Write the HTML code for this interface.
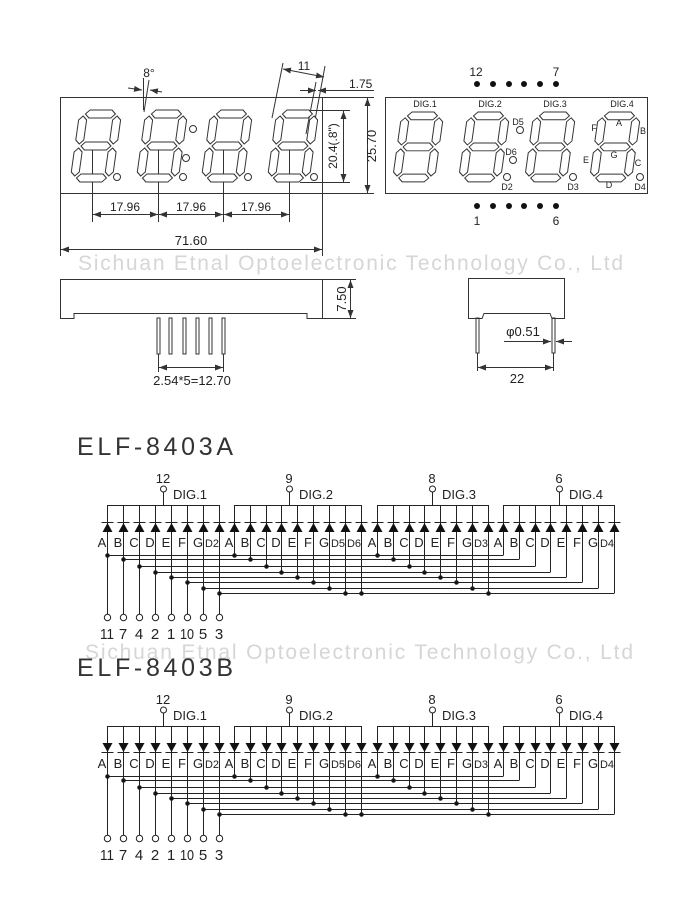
<!DOCTYPE html>
<html><head><meta charset="utf-8"><style>
html,body{margin:0;padding:0;background:#fff;}
svg{display:block;}
text{font-family:"Liberation Sans",sans-serif;fill:#222;}
</style></head><body>
<svg id="s" width="700" height="900" viewBox="0 0 700 900" xmlns="http://www.w3.org/2000/svg">
<defs>
<g id="dg" fill="#fff" stroke="#333" stroke-width="1">
<polygon points="6,4 10,0 32,0 36,4 32,8 10,8"/>
<polygon points="6,36 10,32 32,32 36,36 32,40 10,40"/>
<polygon points="6,68 10,64 32,64 36,68 32,72 10,72"/>
<polygon points="4,6 8,10 8,30 4,34 0,30 0,10"/>
<polygon points="38,6 42,10 42,30 38,34 34,30 34,10"/>
<polygon points="4,38 8,42 8,62 4,66 0,62 0,42"/>
<polygon points="38,38 42,42 42,62 38,66 34,62 34,42"/>
</g>
<marker id="ar" markerWidth="8" markerHeight="6" refX="8" refY="3" orient="auto" markerUnits="userSpaceOnUse"><path d="M0,0 L8,3 L0,6z" fill="#333"/></marker>
<marker id="al" markerWidth="8" markerHeight="6" refX="0" refY="3" orient="auto" markerUnits="userSpaceOnUse"><path d="M8,0 L0,3 L8,6z" fill="#333"/></marker>
</defs>

<text x="78" y="270" font-size="21" style="fill:#d6d6d6" textLength="545">Sichuan Etnal Optoelectronic Technology Co., Ltd</text>
<text x="85" y="659" font-size="21" style="fill:#d6d6d6" textLength="548">Sichuan Etnal Optoelectronic Technology Co., Ltd</text>

<g stroke="#333" stroke-width="1" fill="none">
<rect x="60.5" y="97.5" width="262" height="96"/>
<line x1="60.5" y1="193" x2="60.5" y2="256"/><line x1="322.5" y1="193" x2="322.5" y2="256"/>
<line x1="61" y1="249.5" x2="322" y2="249.5" marker-start="url(#al)" marker-end="url(#ar)"/>
<line x1="92.5" y1="145" x2="92.5" y2="222"/><line x1="158.5" y1="145" x2="158.5" y2="222"/>
<line x1="223.5" y1="145" x2="223.5" y2="222"/><line x1="289.5" y1="145" x2="289.5" y2="222"/>
<line x1="93" y1="214.5" x2="158" y2="214.5" marker-start="url(#al)" marker-end="url(#ar)"/>
<line x1="159" y1="214.5" x2="223" y2="214.5" marker-start="url(#al)" marker-end="url(#ar)"/>
<line x1="224" y1="214.5" x2="289" y2="214.5" marker-start="url(#al)" marker-end="url(#ar)"/>
<line x1="300" y1="110.5" x2="350" y2="110.5"/><line x1="300" y1="182.5" x2="350" y2="182.5"/>
<line x1="343.5" y1="111" x2="343.5" y2="182" marker-start="url(#al)" marker-end="url(#ar)"/>
<line x1="322" y1="97.5" x2="374" y2="97.5"/><line x1="322" y1="193.5" x2="374" y2="193.5"/>
<line x1="367.5" y1="98" x2="367.5" y2="193" marker-start="url(#al)" marker-end="url(#ar)"/>
<line x1="283" y1="63" x2="272" y2="118"/><line x1="325" y1="66" x2="315" y2="120"/>
<line x1="316" y1="82" x2="306" y2="134"/>
<line x1="283" y1="69" x2="324" y2="77" marker-start="url(#al)" marker-end="url(#ar)"/>
<line x1="300" y1="90.5" x2="316" y2="90.5" marker-end="url(#ar)"/>
<line x1="374" y1="90.5" x2="318" y2="90.5" marker-end="url(#ar)"/>
<line x1="143.5" y1="78" x2="143.5" y2="110"/><line x1="149" y1="80" x2="144" y2="112"/>
<line x1="128" y1="88" x2="142" y2="90" marker-end="url(#ar)"/>
<line x1="162" y1="92" x2="150" y2="90" marker-end="url(#ar)"/>
<circle cx="117" cy="177" r="3.5"/><circle cx="183" cy="177" r="3.5"/><circle cx="248" cy="177" r="3.5"/><circle cx="314" cy="177" r="3.5"/>
<circle cx="193" cy="129" r="3.5"/><circle cx="186" cy="158" r="3.5"/>
<rect x="385.5" y="97.5" width="262" height="96"/>
<circle cx="520" cy="130" r="3.5"/><circle cx="513" cy="160" r="3.5"/><circle cx="507" cy="177" r="3.5"/>
<circle cx="573" cy="177" r="3.5"/><circle cx="640" cy="177" r="3.5"/>
<path d="M60.5,279.5 H322.5 V318.5 H307 V313.5 H74 V318.5 H60.5 Z"/>
<line x1="322" y1="279.5" x2="356" y2="279.5"/><line x1="322" y1="318.5" x2="356" y2="318.5"/>
<line x1="350.5" y1="280" x2="350.5" y2="318" marker-start="url(#al)" marker-end="url(#ar)"/>
<rect x="157" y="318" width="3" height="36"/><rect x="169" y="318" width="3" height="36"/>
<rect x="183" y="318" width="3" height="36"/><rect x="196" y="318" width="3" height="36"/>
<rect x="209" y="318" width="3" height="36"/><rect x="222" y="318" width="3" height="36"/>
<line x1="158.5" y1="354" x2="158.5" y2="372"/><line x1="223.5" y1="354" x2="223.5" y2="372"/>
<line x1="159" y1="367.5" x2="223" y2="367.5" marker-start="url(#al)" marker-end="url(#ar)"/>
<path d="M468.5,278.5 H564.5 V318.5 H552 L550,313.5 H484 L482,318.5 H468.5 Z"/>
<rect x="476" y="318" width="3" height="35"/><rect x="552" y="318" width="3" height="35"/>
<line x1="477.5" y1="353" x2="477.5" y2="371"/><line x1="553.5" y1="353" x2="553.5" y2="371"/>
<line x1="478" y1="367.5" x2="553" y2="367.5" marker-start="url(#al)" marker-end="url(#ar)"/>
<line x1="504" y1="341.5" x2="551" y2="341.5" marker-end="url(#ar)"/>
<line x1="572" y1="341.5" x2="556" y2="341.5" marker-end="url(#ar)"/>
</g>

<g transform="translate(80,110) skewX(-8)"><use href="#dg"/></g>
<g transform="translate(146,110) skewX(-8)"><use href="#dg"/></g>
<g transform="translate(211,110) skewX(-8)"><use href="#dg"/></g>
<g transform="translate(277,110) skewX(-8)"><use href="#dg"/></g>
<g transform="translate(402,112) skewX(-8) scale(1,0.97)"><use href="#dg"/></g>
<g transform="translate(468,112) skewX(-8) scale(1,0.97)"><use href="#dg"/></g>
<g transform="translate(534,112) skewX(-8) scale(1,0.97)"><use href="#dg"/></g>
<g transform="translate(599,112) skewX(-8) scale(1,0.97)"><use href="#dg"/></g>

<g fill="#111">
<circle cx="477" cy="84" r="3"/><circle cx="493" cy="84" r="3"/><circle cx="509" cy="84" r="3"/><circle cx="524" cy="84" r="3"/><circle cx="540" cy="84" r="3"/><circle cx="556" cy="84" r="3"/>
<circle cx="477" cy="206" r="3"/><circle cx="493" cy="206" r="3"/><circle cx="509" cy="206" r="3"/><circle cx="524" cy="206" r="3"/><circle cx="540" cy="206" r="3"/><circle cx="556" cy="206" r="3"/>
</g>

<g font-size="12" text-anchor="middle">
<text x="125" y="211">17.96</text><text x="191" y="211">17.96</text><text x="256" y="211">17.96</text>
<text x="191" y="245" font-size="13">71.60</text>
<text x="149" y="77">8°</text>
<text x="304" y="70">11</text>
<text x="349" y="88" text-anchor="start">1.75</text>
<text transform="translate(337,146) rotate(-90)">20.4(.8")</text>
<text transform="translate(376,146) rotate(-90)" font-size="13">25.70</text>
<text transform="translate(346,299) rotate(-90)" font-size="13">7.50</text>
<text x="192" y="385" font-size="13">2.54*5=12.70</text>
<text x="517" y="383" font-size="13">22</text>
<text x="523" y="336" font-size="13">φ0.51</text>
<text x="476" y="76">12</text><text x="556" y="76">7</text>
<text x="477" y="225">1</text><text x="556" y="225">6</text>
</g>
<g font-size="9" text-anchor="middle">
<text x="425" y="107">DIG.1</text><text x="490" y="107">DIG.2</text><text x="555" y="107">DIG.3</text><text x="622" y="107">DIG.4</text>
<text x="518" y="125">D5</text><text x="511" y="155">D6</text><text x="507" y="190">D2</text><text x="573" y="190">D3</text><text x="640" y="190">D4</text>
<text x="619" y="126">A</text><text x="643" y="134">B</text><text x="594" y="131">F</text><text x="614" y="158">G</text>
<text x="586" y="163">E</text><text x="638" y="166">C</text><text x="609" y="188">D</text>
</g>

<text x="77" y="455" font-size="25" textLength="156" style="fill:#333">ELF-8403A</text>
<text x="77" y="676" font-size="25" textLength="156" style="fill:#333">ELF-8403B</text>

<g id="schA"></g><g id="schB"></g>

<g font-size="13" text-anchor="middle">
<text x="163" y="483">12</text><text x="289" y="483">9</text><text x="432" y="483">8</text><text x="559" y="483">6</text>
<text x="173" y="499" text-anchor="start">DIG.1</text><text x="299" y="499" text-anchor="start">DIG.2</text>
<text x="442" y="499" text-anchor="start">DIG.3</text><text x="569" y="499" text-anchor="start">DIG.4</text>
<text x="102" y="547">A</text><text x="118" y="547">B</text><text x="134" y="547">C</text><text x="150" y="547">D</text><text x="166" y="547">E</text><text x="182" y="547">F</text><text x="198" y="547">G</text><text x="212" y="547" font-size="11">D2</text>
<text x="229" y="547">A</text><text x="245" y="547">B</text><text x="261" y="547">C</text><text x="276" y="547">D</text><text x="292" y="547">E</text><text x="308" y="547">F</text><text x="324" y="547">G</text><text x="338" y="547" font-size="11">D5</text><text x="354" y="547" font-size="11">D6</text>
<text x="372" y="547">A</text><text x="388" y="547">B</text><text x="404" y="547">C</text><text x="419" y="547">D</text><text x="435" y="547">E</text><text x="451" y="547">F</text><text x="467" y="547">G</text><text x="481" y="547" font-size="11">D3</text>
<text x="498" y="547">A</text><text x="514" y="547">B</text><text x="530" y="547">C</text><text x="545" y="547">D</text><text x="561" y="547">E</text><text x="577" y="547">F</text><text x="593" y="547">G</text><text x="607" y="547" font-size="11">D4</text>
<text x="107" y="639" font-size="15" textLength="14" lengthAdjust="spacingAndGlyphs">11</text><text x="123" y="639" font-size="15">7</text><text x="139" y="639" font-size="15">4</text><text x="155" y="639" font-size="15">2</text><text x="171" y="639" font-size="15">1</text><text x="187" y="639" font-size="15" textLength="14" lengthAdjust="spacingAndGlyphs">10</text><text x="203" y="639" font-size="15">5</text><text x="219" y="639" font-size="15">3</text>
</g>
<g font-size="13" text-anchor="middle" transform="translate(0,221)">
<text x="163" y="483">12</text><text x="289" y="483">9</text><text x="432" y="483">8</text><text x="559" y="483">6</text>
<text x="173" y="499" text-anchor="start">DIG.1</text><text x="299" y="499" text-anchor="start">DIG.2</text>
<text x="442" y="499" text-anchor="start">DIG.3</text><text x="569" y="499" text-anchor="start">DIG.4</text>
<text x="102" y="547">A</text><text x="118" y="547">B</text><text x="134" y="547">C</text><text x="150" y="547">D</text><text x="166" y="547">E</text><text x="182" y="547">F</text><text x="198" y="547">G</text><text x="212" y="547" font-size="11">D2</text>
<text x="229" y="547">A</text><text x="245" y="547">B</text><text x="261" y="547">C</text><text x="276" y="547">D</text><text x="292" y="547">E</text><text x="308" y="547">F</text><text x="324" y="547">G</text><text x="338" y="547" font-size="11">D5</text><text x="354" y="547" font-size="11">D6</text>
<text x="372" y="547">A</text><text x="388" y="547">B</text><text x="404" y="547">C</text><text x="419" y="547">D</text><text x="435" y="547">E</text><text x="451" y="547">F</text><text x="467" y="547">G</text><text x="481" y="547" font-size="11">D3</text>
<text x="498" y="547">A</text><text x="514" y="547">B</text><text x="530" y="547">C</text><text x="545" y="547">D</text><text x="561" y="547">E</text><text x="577" y="547">F</text><text x="593" y="547">G</text><text x="607" y="547" font-size="11">D4</text>
<text x="107" y="639" font-size="15" textLength="14" lengthAdjust="spacingAndGlyphs">11</text><text x="123" y="639" font-size="15">7</text><text x="139" y="639" font-size="15">4</text><text x="155" y="639" font-size="15">2</text><text x="171" y="639" font-size="15">1</text><text x="187" y="639" font-size="15" textLength="14" lengthAdjust="spacingAndGlyphs">10</text><text x="203" y="639" font-size="15">5</text><text x="219" y="639" font-size="15">3</text>
</g>
</svg>
<script>
(function(){
var groups=[[107,123,139,155,171,187,203,219],[234,250,266,281,297,313,329,345,361],[377,393,409,424,440,456,472,488],[503,519,535,550,566,582,598,614]];
var idx=[[0,1,2,3,4,5,6,7],[0,1,2,3,4,5,6,7,7],[0,1,2,3,4,5,6,7],[0,1,2,3,4,5,6,7]];
var pins=[163,289,432,559];
var busY=[555,559,566,572,577,582,588,593];
function draw(id,dy,down){
 var g=document.getElementById(id),h="";
 function L(x1,y1,x2,y2){h+='<line x1="'+x1+'" y1="'+(y1+dy)+'" x2="'+x2+'" y2="'+(y2+dy)+'" stroke="#222" stroke-width="1"/>';}
 function C(x,y,r,f){h+='<circle cx="'+x+'" cy="'+(y+dy)+'" r="'+r+'" fill="'+f+'" stroke="#222" stroke-width="1"/>';}
 for(var k=0;k<8;k++){L(groups[0][k],busY[k]+.5,groups[3][k],busY[k]+.5);}
 for(var gi=0;gi<4;gi++){
  var cs=groups[gi];
  L(cs[0],505.5,cs[cs.length-1],505.5);
  L(pins[gi]+.5,492,pins[gi]+.5,505);
  C(pins[gi]+.5,489,3,"#fff");
  for(var i=0;i<cs.length;i++){
   var x=cs[i]+.5,by=busY[idx[gi][i]]+.5;
   L(x,505,x,gi==0?614:by);
   if(down){h+='<polygon points="'+(x-5)+','+(522+dy)+' '+(x+5)+','+(522+dy)+' '+x+','+(531+dy)+'" fill="#111"/>';L(x-6,531.5,x+6,531.5);}
   else{h+='<polygon points="'+(x-5)+','+(532+dy)+' '+(x+5)+','+(532+dy)+' '+x+','+(523+dy)+'" fill="#111"/>';L(x-6,522.5,x+6,522.5);}
   if(gi<3)C(x,by,1.8,"#111");
   if(gi==0)C(x,617.5,3.2,"#fff");
  }
 }
 g.innerHTML=h;
}
draw("schA",0,false);draw("schB",221,true);
})();
</script>
</body></html>
